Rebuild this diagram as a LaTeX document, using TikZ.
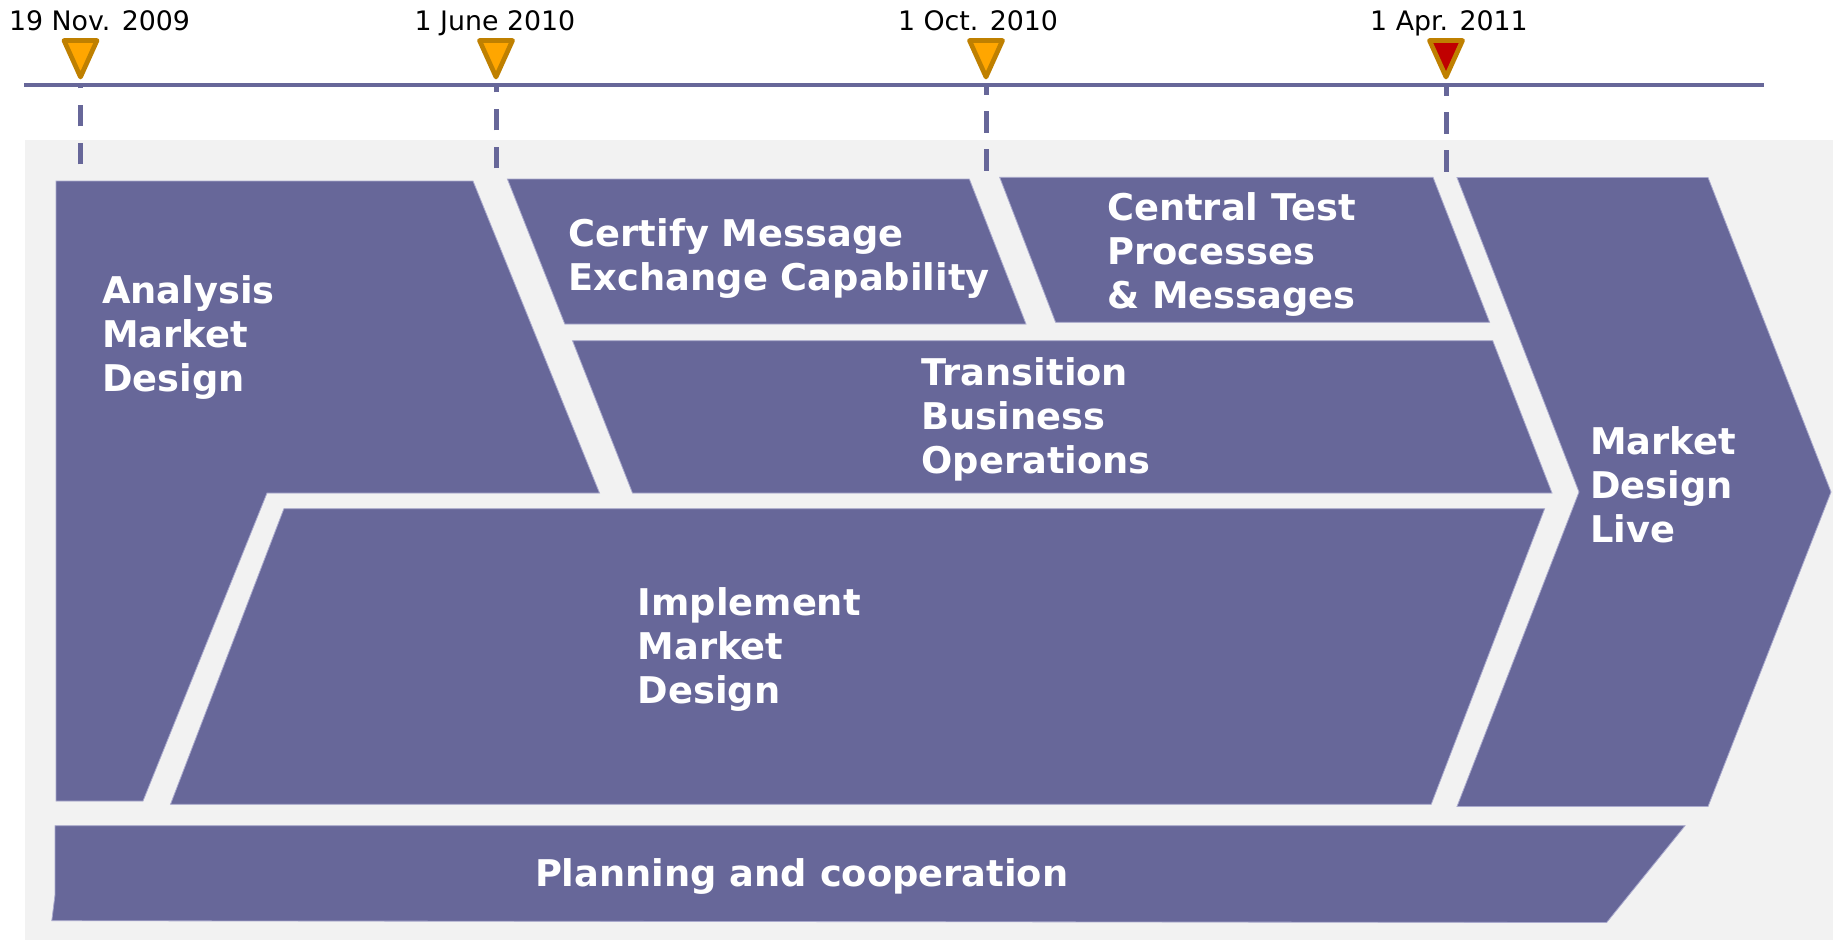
\documentclass[tikz,border=0pt]{standalone}
\usepackage{fontspec}
\setmainfont{DejaVu Sans}
\definecolor{boxc}{RGB}{103,103,153}
\definecolor{bgc}{RGB}{242,242,242}
\definecolor{mko}{RGB}{255,166,0}
\definecolor{mkedge}{RGB}{191,128,0}
\definecolor{mkred}{RGB}{192,0,0}
\definecolor{edgec}{RGB}{170,170,205}
\newcommand{\linestack}[1]{\vtop{\baselineskip=44pt\lineskiplimit=-100pt\lineskip=0pt #1}}
\begin{document}
\begin{tikzpicture}[x=1pt,y=-1pt,
  phase/.style={fill=boxc, draw=edgec, line width=0.8pt},
  boxtext/.style={anchor=base west, inner sep=0pt, text=white, font=\fontsize{36.8}{44}\selectfont\bfseries},
  datelabel/.style={anchor=base, inner sep=0pt, font=\fontsize{26.8}{32}\selectfont},
  tl/.style={draw=boxc, line width=4.7pt},
  tick/.style={draw=boxc, line width=5pt, dash pattern=on 21.5pt off 16.5pt},
  marker/.style={draw=mkedge, line width=4.7pt, line join=round, fill=mko},
  redmarker/.style={marker, fill=mkred}]
\useasboundingbox (0,0) rectangle (1833,940);
\fill[white] (0,0) rectangle (1833,940);
\fill[bgc] (25.4,140) rectangle (1833,940);

% timeline
\coordinate (tlA) at (24,85);
\coordinate (tlB) at (1764,85);
\draw[tl] (tlA) -- (tlB);

% dashed drop lines
\coordinate (m1) at (80.5,85);   \coordinate (d1) at (80.5,164.3);
\coordinate (m2) at (496,85);    \coordinate (d2) at (496,168.3);
\coordinate (m3) at (986,85);    \coordinate (d3) at (986,170.7);
\coordinate (m4) at (1446,85);   \coordinate (d4) at (1446,171.7);
\draw[tick] (d1) -- (m1);
\draw[tick] (d2) -- (m2);
\draw[tick] (d3) -- (m3);
\draw[tick] (d4) -- (m4);

% markers
\draw[marker] (64,40.5) -- (97,40.5) -- (80.5,77) -- cycle;
\draw[marker] (479.5,40.5) -- (512.5,40.5) -- (496,77) -- cycle;
\draw[marker] (969.5,40.5) -- (1002.5,40.5) -- (986,77) -- cycle;
\draw[redmarker] (1429.5,40.5) -- (1462.5,40.5) -- (1446,77) -- cycle;

% date labels
\node[datelabel] (lab1) at (99.5,30) {19 Nov. 2009};
\node[datelabel] (lab2) at (495,30) {1 June 2010};
\node[datelabel] (lab3) at (978,30) {1 Oct. 2010};
\node[datelabel] (lab4) at (1449,30) {1 Apr. 2011};

% phase shapes
\filldraw[phase] (56,181) -- (473,181) -- (599.5,493) -- (267,493) -- (143,801) -- (56,801) -- cycle;
\filldraw[phase] (507.4,179) -- (969.3,179) -- (1026,324) -- (564.8,324) -- cycle;
\filldraw[phase] (999.7,177.3) -- (1433,177.3) -- (1489.6,322.3) -- (1055.6,322.3) -- cycle;
\filldraw[phase] (572.5,340.7) -- (1492.7,340.7) -- (1552,493) -- (632.5,493) -- cycle;
\filldraw[phase] (283.9,508.7) -- (1544.6,508.7) -- (1431.2,804.3) -- (170.5,804.3) -- cycle;
\filldraw[phase] (1457,177.5) -- (1708,177.5) -- (1831,492) -- (1708,806.5) -- (1457,806.5) -- (1579,492) -- cycle;
\filldraw[phase] (55,825.7) -- (1685,825.7) -- (1606.6,922.5) -- (51.8,920.7) -- (55,895) -- cycle;

% phase texts
\node[boxtext] (analysis) at (101.8,303.3) {\linestack{\hbox{Analysis}\hbox{Market}\hbox{Design}}};
\node[boxtext] (certify) at (568.6,246.7) {\linestack{\hbox{Certify Message}\hbox{Exchange Capability}}};
\node[boxtext] (central) at (1106.9,220) {\linestack{\hbox{Central Test}\hbox{Processes}\hbox{\& Messages}}};
\node[boxtext] (transition) at (921.5,385.7) {\linestack{\hbox{Transition}\hbox{Business}\hbox{Operations}}};
\node[boxtext] (implement) at (637.5,615.7) {\linestack{\hbox{Implement}\hbox{Market}\hbox{Design}}};
\node[boxtext] (live) at (1590,454) {\linestack{\hbox{Market}\hbox{Design}\hbox{Live}}};
\node[boxtext] (planning) at (534.8,886.7) {Planning and cooperation};
\end{tikzpicture}
\end{document}
